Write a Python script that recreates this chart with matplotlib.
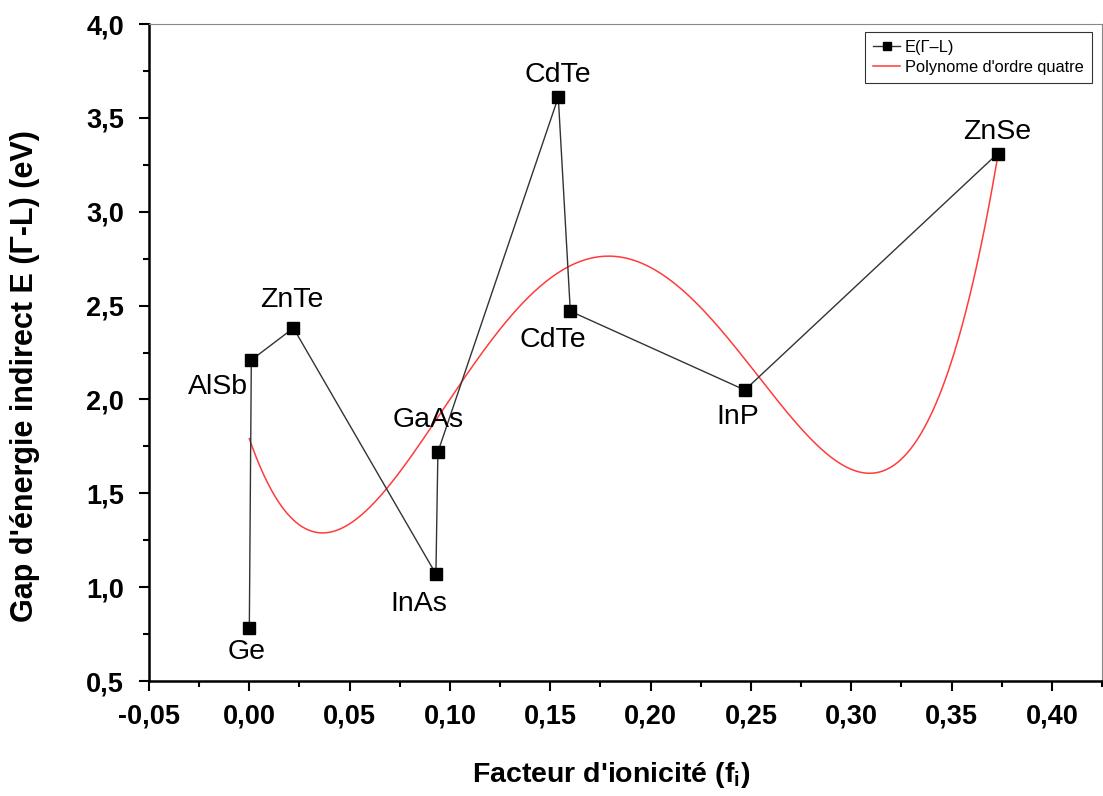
import numpy as np
import matplotlib
matplotlib.use("Agg")
import matplotlib.pyplot as plt
from matplotlib.ticker import MultipleLocator, FuncFormatter

# Data
materials = ["Ge", "AlSb", "ZnTe", "InAs", "GaAs", "CdTe", "CdTe", "InP", "ZnSe"]
fi = [0.000, 0.001, 0.022, 0.093, 0.094, 0.154, 0.160, 0.247, 0.373]
gap = [0.78, 2.21, 2.38, 1.07, 1.72, 3.61, 2.47, 2.05, 3.31]

plt.rcParams['font.family'] = ['Liberation Sans', 'DejaVu Sans']
plt.rcParams['mathtext.fontset'] = 'custom'
plt.rcParams['mathtext.rm'] = 'Liberation Sans'
plt.rcParams['mathtext.bf'] = 'Liberation Sans:bold'

fig = plt.figure(figsize=(11.03, 7.96), dpi=100)
ax = fig.add_axes([149/1103, 1-681/796, (1102-149)/1103, (681-24)/796])

# fourth-order polynomial fit
coef = np.polyfit(fi, gap, 4)
xf = np.linspace(min(fi), max(fi), 400)
ax.plot(xf, np.polyval(coef, xf), color='#ff3b3b', lw=1.1, label="Polynome d'ordre quatre", zorder=2)

ax.plot(fi, gap, color='#333333', lw=1.0, marker='s', markersize=8.5,
        markerfacecolor='black', markeredgecolor='black', label='E(Γ–L)', zorder=3)

# annotations: offsets in pixels
offsets = [(-3, -24), (-33, -27), (-2, 28), (-17, -30), (-10, 32), (0, 22), (-18, -29), (-7, -27), (0, 22)]
for name, x, y, (dx, dy) in zip(materials, fi, gap, offsets):
    ax.annotate(name, (x, y), xytext=(dx, dy), textcoords='offset pixels',
                ha='center', va='center', fontsize=20.5, color='black')

ax.set_xlim(-0.05, 0.425)
ax.set_ylim(0.5, 4.0)
ax.xaxis.set_major_locator(MultipleLocator(0.05))
ax.xaxis.set_minor_locator(MultipleLocator(0.025))
ax.yaxis.set_major_locator(MultipleLocator(0.5))
ax.yaxis.set_minor_locator(MultipleLocator(0.25))
ax.xaxis.set_major_formatter(FuncFormatter(lambda v, p: f"{v:.2f}".replace('.', ',').replace('-0,00', '0,00')))
ax.yaxis.set_major_formatter(FuncFormatter(lambda v, p: f"{v:.1f}".replace('.', ',')))

ax.tick_params(which='both', direction='out', top=False, right=False, width=1.5)
ax.tick_params(which='major', length=7, labelsize=19.5)
ax.tick_params(axis='x', which='major', pad=9)
ax.tick_params(axis='y', which='major', pad=11)
ax.tick_params(which='minor', length=4)
for lab in ax.get_xticklabels() + ax.get_yticklabels():
    lab.set_fontweight('bold')

ax.spines['left'].set_linewidth(1.8)
ax.spines['bottom'].set_linewidth(1.8)
ax.spines['top'].set_linewidth(0.8)
ax.spines['right'].set_linewidth(0.8)
ax.spines['top'].set_color('#888888')
ax.spines['right'].set_color('#888888')

ax.set_xlabel("Facteur d'ionicité (f$_\\mathbf{i}$)", fontsize=20.5, fontweight='bold')
ax.set_ylabel("Gap d'énergie indirect E (Γ-L) (eV)", fontsize=22, fontweight='bold')
ax.xaxis.set_label_coords(0.485, -0.121)
ax.yaxis.set_label_coords(-0.1144, 0.464)

# legend order: data first
h, l = ax.get_legend_handles_labels()
leg = ax.legend([h[1], h[0]], [l[1], l[0]], loc='upper right', bbox_to_anchor=(0.9895, 0.988),
                fontsize=11.8, frameon=True, fancybox=False, edgecolor='black',
                handlelength=1.65, handletextpad=0.3, markerscale=0.75, borderpad=0.5,
                labelspacing=0.3, borderaxespad=0)
leg.get_frame().set_linewidth(0.8)

fig.savefig('out.png', dpi=100)
